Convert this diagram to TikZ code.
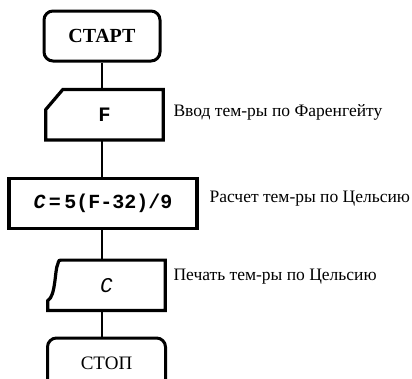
\documentclass[tikz,border=0pt]{standalone}
\usepackage{fontspec}
\setmainfont{Liberation Serif}
\setmonofont{Liberation Mono}
\usetikzlibrary{positioning}
\tikzset{
  boxfont/.style={font=\ttfamily\bfseries\fontsize{20.5}{21}\selectfont},
  term/.style={draw,line width=3pt,rounded corners=9pt,minimum width=116pt,minimum height=50pt},
  blk/.style={minimum width=117pt,minimum height=50pt,boxfont},
  outline/.style={line width=3.2pt,line join=miter},
  link/.style={line width=2.6pt},
  note/.style={right,font=\fontsize{17.5}{18}\selectfont}
}
\begin{document}
\begin{tikzpicture}[x=1pt,y=-1pt]
  \useasboundingbox (0,0) rectangle (412,378);
  % blocks, top to bottom
  \node[term,font=\bfseries\fontsize{20}{20}\selectfont] (start) at (102,36) {СТАРТ};
  \node[blk,below=27pt of start,xshift=2.5pt] (inp) {F};
  \node[blk,minimum width=188pt,below=37pt of inp,xshift=-1.5pt,draw,line width=3.2pt,
    font=\ttfamily\bfseries\fontsize{20}{20}\selectfont] (calc) {\textit{C}\,=\,5(F-32)/9};
  \node[blk,below=30pt of calc,xshift=3.5pt,font=\ttfamily\fontsize{21}{21}\selectfont] (out) {\textit{C}};
  \node[term,font=\fontsize{19}{19}\selectfont,minimum width=118pt,below=26pt of out] (stop) {СТОП};
  % input and output outlines
  \draw[outline] ([yshift=-20pt]inp.north west) -- ([xshift=17pt]inp.north west)
    -- (inp.north east) -- (inp.south east) -- (inp.south west) -- cycle;
  \draw[outline] (out.south west) -- ([yshift=10pt]out.south west)
    .. controls ([xshift=8pt,yshift=14pt]out.south west) and ([xshift=7pt,yshift=-9pt]out.north west)
    .. ([xshift=10pt,yshift=-4pt]out.north west)
    .. controls ([xshift=11pt]out.north west) .. ([xshift=15pt]out.north west)
    -- (out.north east) -- (out.south east) -- cycle;
  % connectors
  \draw[link] (start.south) -- (start.south |- inp.north);
  \draw[link] (start.south |- inp.south) -- (start.south |- calc.north);
  \draw[link] (start.south |- calc.south) -- (start.south |- out.north);
  \draw[link] (start.south |- out.south) -- (start.south |- stop.north);
  % comments beside the blocks
  \node[note] (inpnote) at (170,112) {Ввод тем-ры по Фаренгейту};
  \node[note] (calcnote) at (206,199) {Расчет тем-ры по Цельсию};
  \node[note] (outnote) at (170,277) {Печать тем-ры по Цельсию};
\end{tikzpicture}
\end{document}
